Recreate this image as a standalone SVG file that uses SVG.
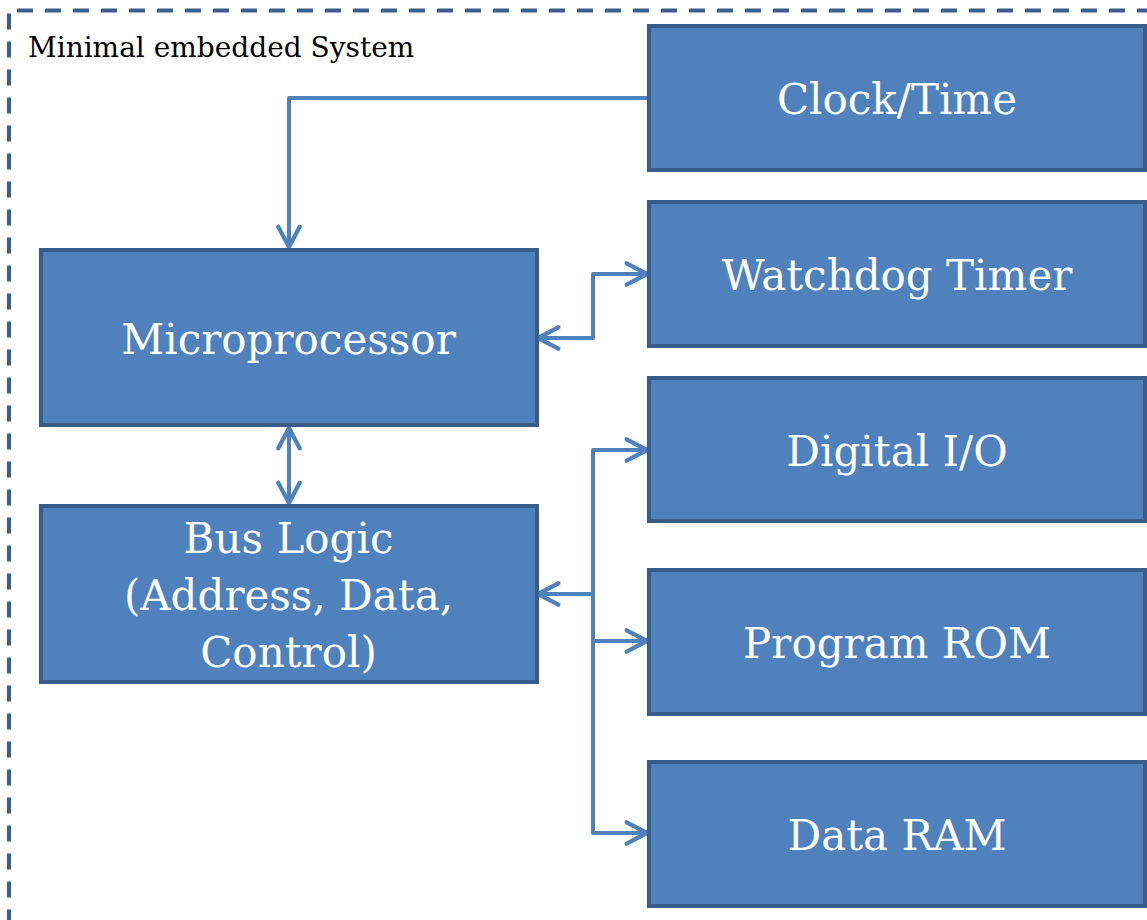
<svg xmlns="http://www.w3.org/2000/svg" width="1147" height="920" viewBox="0 0 1147 920">
<style>
.box{fill:#4f81bd;stroke:#385d8a;stroke-width:4}
.lbl{font-family:"DejaVu Serif","Liberation Serif",serif;font-size:42px;fill:#ffffff;text-anchor:middle}
.title{font-family:"DejaVu Serif","Liberation Serif",serif;font-size:28px;fill:#000000}
.con{fill:none;stroke:#4f81bd;stroke-width:4;stroke-linejoin:round}
.frame{fill:none;stroke:#3b5f8c;stroke-width:4;stroke-dasharray:16 12}
</style>
<defs>
<marker id="arr" markerUnits="userSpaceOnUse" markerWidth="30" markerHeight="30" viewBox="-24 -14 28 28" refX="0" refY="0" orient="auto-start-reverse">
<path d="M-19,-10 L0,0 L-19,10" fill="none" stroke="#4f81bd" stroke-width="4" stroke-linecap="round" stroke-linejoin="round"/>
</marker>
</defs>
<g id="frame">
<path class="frame" d="M17,10.5 H1147"/>
<path class="frame" d="M9,13.5 V920"/>
<text class="title" x="28" y="57">Minimal embedded System</text>
</g>
<g id="connectors">
<path class="con" d="M648,98 H289 V247" marker-end="url(#arr)"/>
<path class="con" d="M538,338 H593 V274 H647" marker-start="url(#arr)" marker-end="url(#arr)"/>
<path class="con" d="M289,428 V503" marker-start="url(#arr)" marker-end="url(#arr)"/>
<path class="con" d="M593,594 H538" marker-end="url(#arr)"/>
<path class="con" d="M593,594 V450 H647" marker-end="url(#arr)"/>
<path class="con" d="M593,594 V641 H647" marker-end="url(#arr)"/>
<path class="con" d="M593,641 V833 H647" marker-end="url(#arr)"/>
</g>
<g id="clock">
<rect class="box" x="649" y="26" width="496" height="144"/>
<text class="lbl" x="897" y="114">Clock/Time</text>
</g>
<g id="watchdog">
<rect class="box" x="649" y="202" width="496" height="144"/>
<text class="lbl" x="897" y="290">Watchdog Timer</text>
</g>
<g id="digitalio">
<rect class="box" x="649" y="378" width="496" height="143"/>
<text class="lbl" x="897" y="466">Digital I/O</text>
</g>
<g id="rom">
<rect class="box" x="649" y="570" width="496" height="144"/>
<text class="lbl" x="897" y="658">Program ROM</text>
</g>
<g id="ram">
<rect class="box" x="649" y="762" width="496" height="144"/>
<text class="lbl" x="897" y="850">Data RAM</text>
</g>
<g id="microprocessor">
<rect class="box" x="41" y="250" width="496" height="175"/>
<text class="lbl" x="288.5" y="354">Microprocessor</text>
</g>
<g id="buslogic">
<rect class="box" x="41" y="506" width="496" height="176"/>
<text class="lbl" x="288.5" y="553">Bus Logic</text>
<text class="lbl" x="288.5" y="610">(Address, Data,</text>
<text class="lbl" x="288.5" y="667">Control)</text>
</g>
</svg>
